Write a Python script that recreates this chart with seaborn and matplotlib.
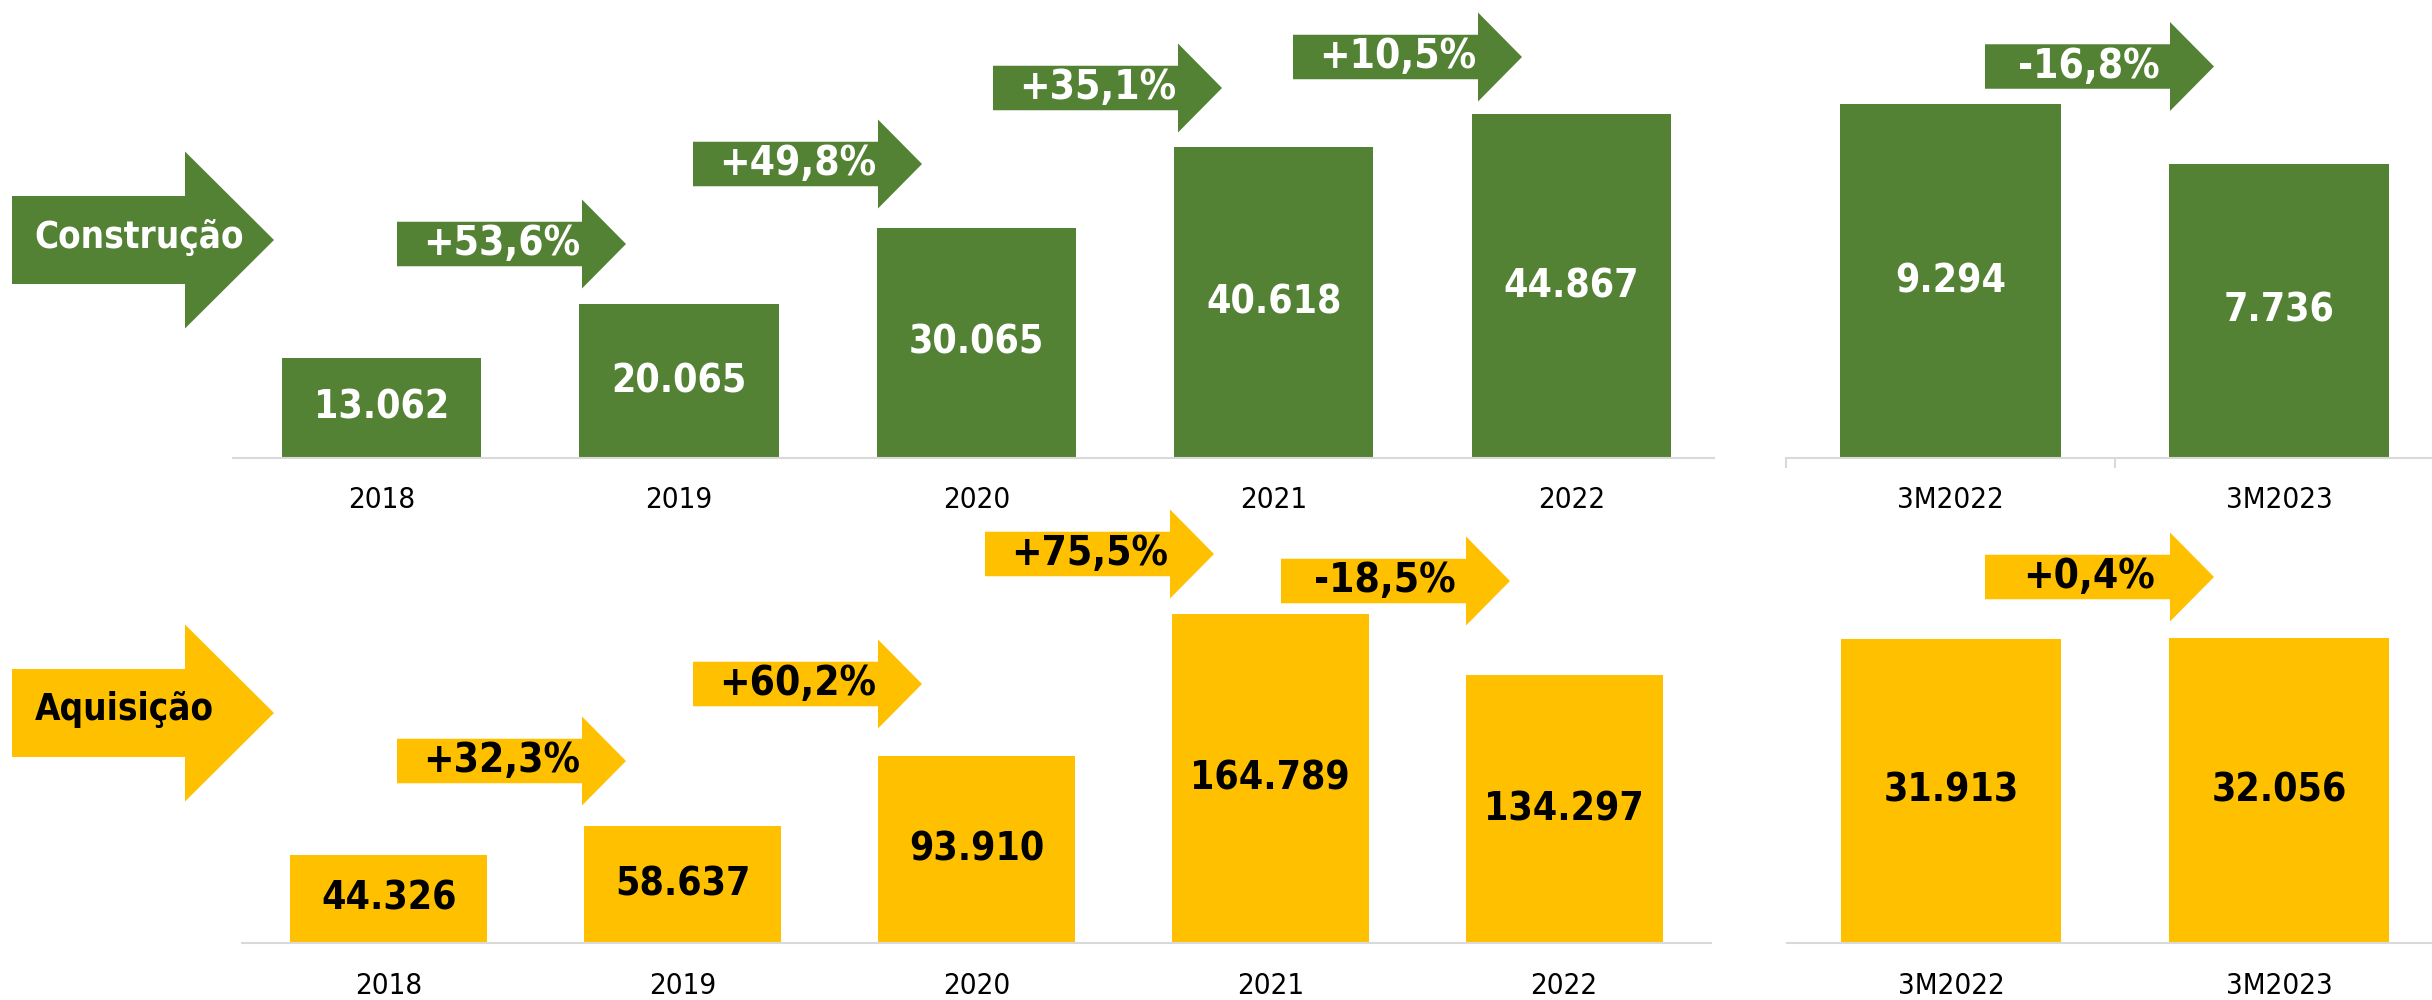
import matplotlib
matplotlib.use("Agg")
import matplotlib.pyplot as plt
from matplotlib.patches import Polygon
from matplotlib import font_manager as fm
import seaborn as sns

# ---------------- data ----------------
years = ["2018", "2019", "2020", "2021", "2022"]
quarters = ["3M2022", "3M2023"]
constr_years = [13062, 20065, 30065, 40618, 44867]
constr_quarters = [9294, 7736]
aquis_years = [44326, 58637, 93910, 164789, 134297]
aquis_quarters = [31913, 32056]
constr_growth = ["+53,6%", "+49,8%", "+35,1%", "+10,5%"]
constr_q_growth = ["-16,8%"]
aquis_growth = ["+32,3%", "+60,2%", "+75,5%", "-18,5%"]
aquis_q_growth = ["+0,4%"]
row_titles = ["Construção", "Aquisição"]

GREEN = "#548235"
YELLOW = "#FFC000"
AXIS_GRAY = "#D9D9D9"

sns.set_theme(style="white")
plt.rcParams["font.family"] = ["DejaVu Sans"]

# use condensed DejaVu (closer to Tahoma) if it is installed
try:
    _p = fm.findfont(fm.FontProperties(family="DejaVu Sans", weight="bold",
                                       stretch="condensed"),
                     fallback_to_default=False)
    CONDENSED = "condensed" in _p.lower()
except Exception:
    CONDENSED = False
STRETCH = "condensed" if CONDENSED else "normal"
K = 1.1 if CONDENSED else 1.0

W, H = 2432, 1000
fig = plt.figure(figsize=(W / 100, H / 100), dpi=100)


def fx(x):
    return x / W


def fy(y):
    return 1 - y / H


def fmt(v):
    return f"{v:,}".replace(",", ".")


def make_panel(rect, cats, vals, color, txtcolor, xlim, ylim, pad, minor=False):
    ax = fig.add_axes(rect)
    ax.set_facecolor("none")
    sns.barplot(x=cats, y=vals, color=color, saturation=1, width=0.67,
                linewidth=0, ax=ax)
    ax.set_xlim(*xlim)
    ax.set_ylim(*ylim)
    for s in ["top", "left", "right"]:
        ax.spines[s].set_visible(False)
    ax.spines["bottom"].set_color(AXIS_GRAY)
    ax.spines["bottom"].set_linewidth(1.5)
    ax.set_yticks([])
    ax.set_xlabel("")
    ax.set_ylabel("")
    ax.tick_params(axis="x", which="major", length=0, pad=pad,
                   labelsize=19.2 * K, labelcolor="black")
    for lab in ax.get_xticklabels():
        lab.set_fontstretch(STRETCH)
    if minor:
        ax.set_xticks([-0.5, 0.5], minor=True)
        ax.tick_params(axis="x", which="minor", length=7.5, width=1.5,
                       color=AXIS_GRAY, bottom=True)
    ax.bar_label(ax.containers[0], labels=[fmt(v) for v in vals],
                 label_type="center", fontsize=25.5 * K, fontweight="bold",
                 fontstretch=STRETCH, color=txtcolor)
    return ax


# top row (Construção)
make_panel([fx(233), fy(458), fx(1714 - 233), 0.458], years, constr_years,
           GREEN, "white", (-0.5, 4.48), (0, 59800), 20)
make_panel([fx(1786), fy(458), fx(W - 1786), 0.458], quarters, constr_quarters,
           GREEN, "white", (-0.5, 1.465), (0, 12037), 20, minor=True)
# bottom row (Aquisição)
make_panel([fx(242), fy(943), fx(1711 - 242), 0.423], years, aquis_years,
           YELLOW, "black", (-0.5, 4.5), (0, 211980), 21)
make_panel([fx(1787), fy(943), fx(W - 1787), 0.423], quarters, aquis_quarters,
           YELLOW, "black", (-0.5, 1.465), (0, 44405), 21)


def block_arrow(xl, yc, length, body_h, head_h, head_len, color):
    xb = xl + length - head_len
    pts = [(xl, yc - body_h / 2), (xb, yc - body_h / 2), (xb, yc - head_h / 2),
           (xl + length, yc), (xb, yc + head_h / 2), (xb, yc + body_h / 2),
           (xl, yc + body_h / 2)]
    poly = Polygon([(fx(x), fy(y)) for x, y in pts], closed=True,
                   transform=fig.transFigure, facecolor=color, edgecolor="none",
                   zorder=5)
    fig.patches.append(poly)


def pct_arrow(xl, yc, text, color, txtcolor):
    L = 229
    block_arrow(xl, yc, L, 44.5, 89, 44, color)
    fig.text(fx(xl + 0.455 * L), fy(yc), text, ha="center", va="center",
             fontsize=26.5 * K, fontweight="bold", fontstretch=STRETCH,
             color=txtcolor, zorder=6)


def title_arrow(yc, text, color, txtcolor, text_x):
    xl, L = 12, 262
    block_arrow(xl, yc, L, 88, 177, 89, color)
    fig.text(fx(text_x), fy(yc - 3), text, ha="center", va="center",
             fontsize=24 * K, fontweight="bold", fontstretch=STRETCH,
             color=txtcolor, zorder=6)


# title arrows
title_arrow(240, row_titles[0], GREEN, "white", 139)
title_arrow(713, row_titles[1], YELLOW, "black", 124)

# growth arrows - top
top_pos = [(397, 244), (693, 164), (993, 88), (1293, 57)]
for (x, y), t in zip(top_pos, constr_growth):
    pct_arrow(x, y, t, GREEN, "white")
pct_arrow(1985, 66.5, constr_q_growth[0], GREEN, "white")

# growth arrows - bottom
bot_pos = [(397, 761), (693, 684), (985, 554), (1281, 581)]
for (x, y), t in zip(bot_pos, aquis_growth):
    pct_arrow(x, y, t, YELLOW, "black")
pct_arrow(1985, 577, aquis_q_growth[0], YELLOW, "black")

fig.savefig("out.png", dpi=100, facecolor="white")
